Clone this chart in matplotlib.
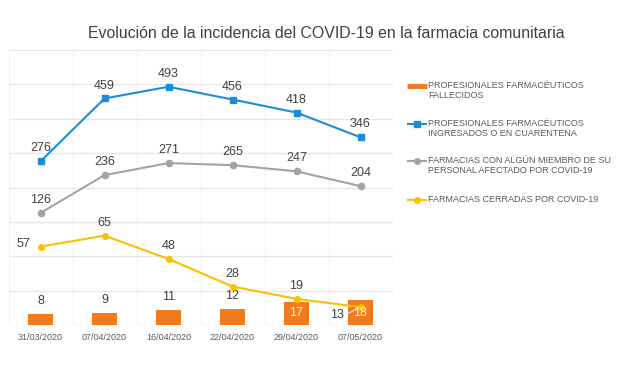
import matplotlib
matplotlib.use("Agg")
import matplotlib.pyplot as plt
from matplotlib.lines import Line2D
import numpy as np

plt.rcParams['font.family'] = ['Liberation Sans', 'DejaVu Sans']

dates = ["31/03/2020", "07/04/2020", "16/04/2020", "22/04/2020", "29/04/2020", "07/05/2020"]
fallecidos = [8, 9, 11, 12, 17, 18]
ingresados = [276, 459, 493, 456, 418, 346]
farmacias_afectadas = [126, 236, 271, 265, 247, 204]
farmacias_cerradas = [57, 65, 48, 28, 19, 13]

legend_labels = [
    "PROFESIONALES FARMACÉUTICOS\nFALLECIDOS",
    "PROFESIONALES FARMACÉUTICOS\nINGRESADOS O EN CUARENTENA",
    "FARMACIAS CON ALGÚN MIEMBRO DE SU\nPERSONAL AFECTADO POR COVID-19",
    "FARMACIAS CERRADAS POR COVID-19",
]
title = "Evolución de la incidencia del COVID-19 en la farmacia comunitaria"

C_ORANGE = "#F47A20"
C_BLUE = "#1B8DD6"
C_GRAY = "#A3A3A3"
C_YELLOW = "#F7C000"
C_TEXT = "#404040"

W, H = 620, 367
fig = plt.figure(figsize=(W / 100, H / 100), dpi=100)
L, R, T, B = 8.5, 392.5, 50, 325
ax = fig.add_axes([L / W, 1 - B / H, (R - L) / W, (B - T) / H])
ax2 = ax.twinx()

x = np.arange(len(dates))
ax.set_xlim(-0.5, len(dates) - 0.5)
ax.set_ylim(0, 200)
ax2.set_ylim(-200, 600)

# gridlines
ax.set_yticks(np.arange(0, 201, 25))
ax.set_xticks(x)
ax.set_xticks(np.arange(-0.5, len(dates), 0.5), minor=True)
ax.grid(axis='y', which='major', color='#E6E6E6', lw=1.0)
ax.grid(axis='x', which='minor', color='#F1F1F1', lw=0.8)
ax.set_axisbelow(True)
ax.tick_params(axis='y', left=False, labelleft=False)
ax2.tick_params(axis='y', right=False, labelright=False)
ax.tick_params(axis='x', which='both', length=0, pad=6, labelsize=6.5, labelcolor='#595959')
ax.set_xticklabels(dates)
for a in (ax, ax2):
    for s in a.spines.values():
        s.set_visible(False)

# bars
bars = ax.bar(x, fallecidos, width=0.39, color=C_ORANGE, zorder=2)
for i, v in enumerate(fallecidos):
    if v >= 15:
        ax.text(x[i], v / 2, str(v), ha='center', va='center', color='white', fontsize=9, zorder=6)
    else:
        ax.annotate(str(v), (x[i], v), xytext=(0, 5), textcoords='offset points',
                    ha='center', va='bottom', color=C_TEXT, fontsize=9)

# yellow line (primary axis)
ax.plot(x, farmacias_cerradas, color=C_YELLOW, lw=1.5, marker='o', ms=4, zorder=4)
for i, v in enumerate(farmacias_cerradas):
    if i == 0:
        ax.annotate(str(v), (x[i], v), xytext=(-7, 2), textcoords='offset points',
                    ha='right', va='center', color=C_TEXT, fontsize=9)
    elif i == len(farmacias_cerradas) - 1:
        ax.annotate(str(v), (x[i], v), xytext=(-12, -6), textcoords='offset points',
                    ha='right', va='center', color=C_TEXT, fontsize=9, zorder=7,
                    arrowprops=dict(arrowstyle='-', color='#E0E0E0', lw=0.9,
                                    shrinkA=1, shrinkB=2, relpos=(1, 0.5)))
    else:
        ax.annotate(str(v), (x[i], v), xytext=(0, 5), textcoords='offset points',
                    ha='center', va='bottom', color=C_TEXT, fontsize=9)

# secondary axis lines
ax2.plot(x, farmacias_afectadas, color=C_GRAY, lw=1.5, marker='o', ms=4.5, zorder=3)
ax2.plot(x, ingresados, color=C_BLUE, lw=1.5, marker='s', ms=4.5, zorder=3)
for series in (farmacias_afectadas, ingresados):
    for i, v in enumerate(series):
        ax2.annotate(str(v), (x[i], v), xytext=(0, 5), textcoords='offset points',
                     ha='center', va='bottom', color=C_TEXT, fontsize=9)

# title
fig.text(326 / W, 1 - 33 / H, title, ha='center', va='center', fontsize=11.4, color=C_TEXT)

# legend (manual)
entries = [
    (C_ORANGE, None, 3.5, 86),
    (C_BLUE, 's', 1.5, 123.5),
    (C_GRAY, 'o', 1.5, 161),
    (C_YELLOW, 'o', 1.5, 200),
]
for (col, mk, lw, yy), lab in zip(entries, legend_labels):
    yf = 1 - yy / H
    xs = [407 / W, 417 / W, 427 / W]
    ln = Line2D(xs, [yf] * 3, transform=fig.transFigure, color=col, lw=lw,
                marker=mk if mk else None, markevery=[1], ms=4, solid_capstyle='butt')
    fig.add_artist(ln)
    fig.text(428 / W, yf + 5 / H, lab, ha='left', va='top', fontsize=6.5,
             color='#595959', linespacing=1.2)

fig.savefig("out.png", dpi=100, facecolor='white')
